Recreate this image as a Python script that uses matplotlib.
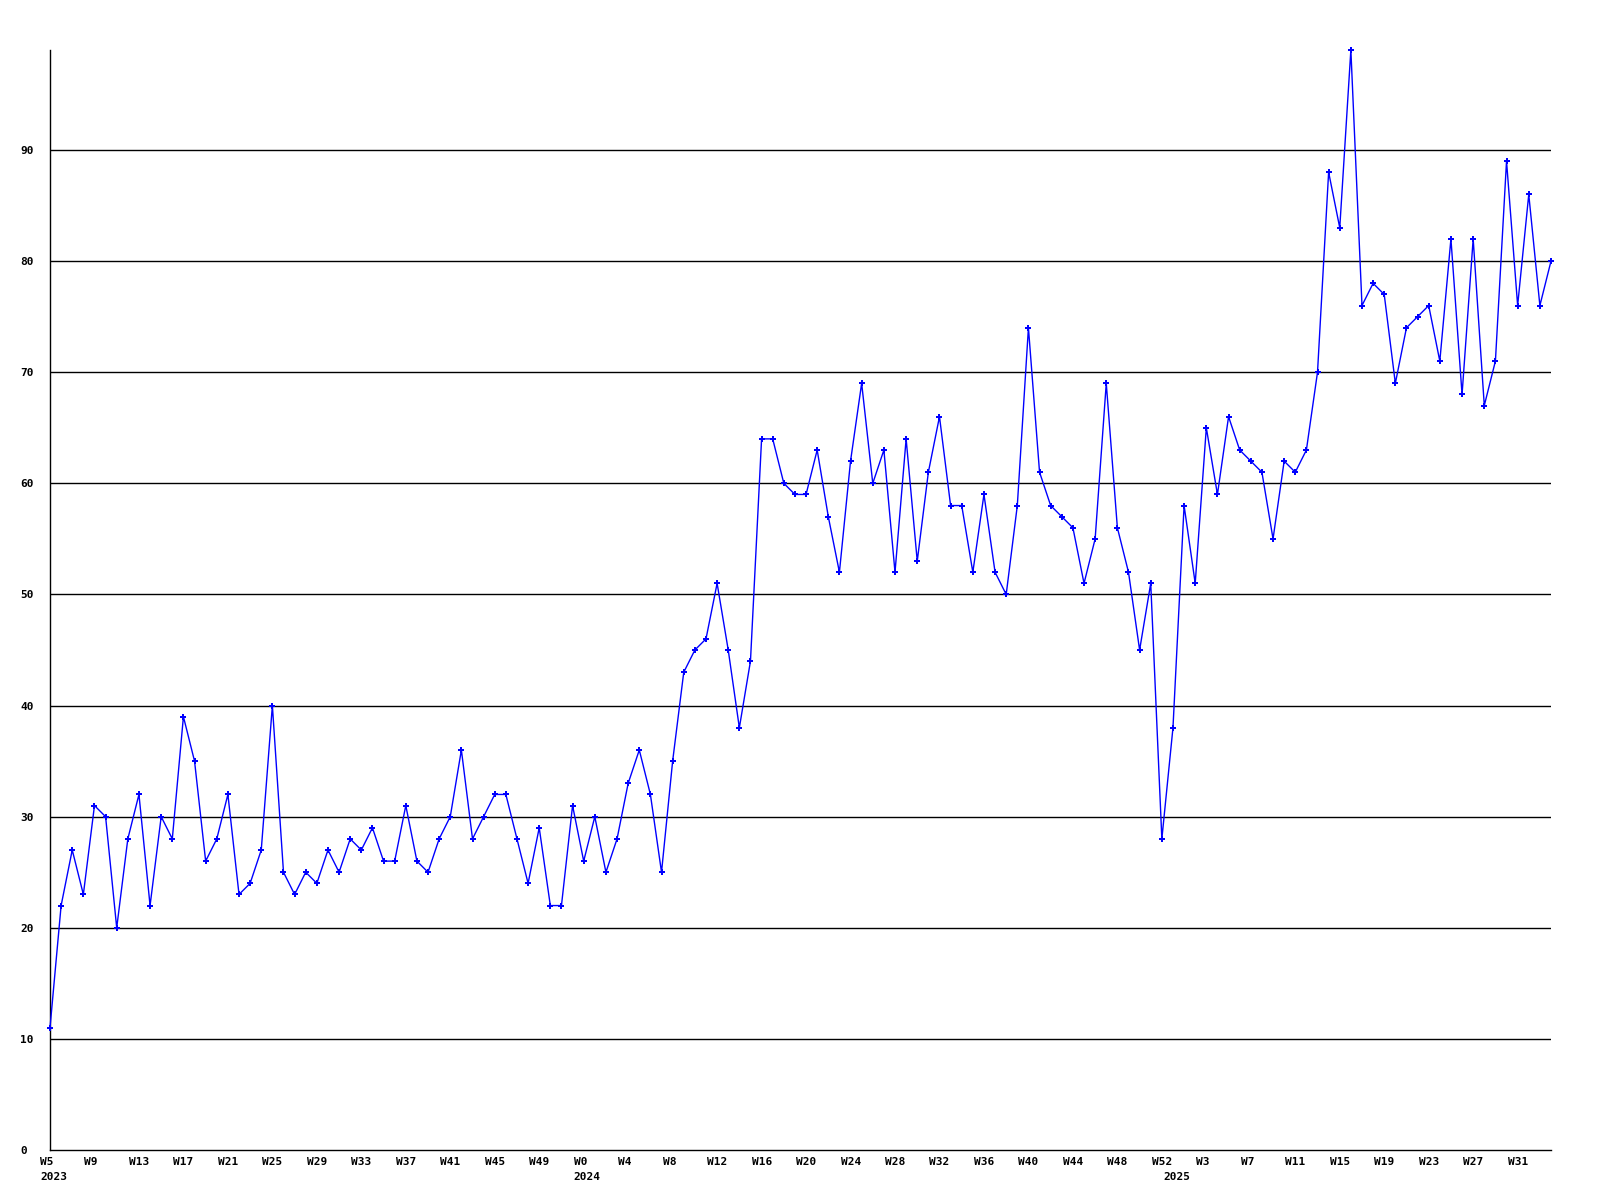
#!/usr/bin/env python3

import matplotlib
matplotlib.use("Agg")
import matplotlib.pyplot as plt
from matplotlib.transforms import ScaledTranslation

# weekly counts, W5 2023 .. W34 2025
values_2023 = [11, 22, 27, 23, 31, 30, 20, 28, 32, 22, 30, 28, 39, 35, 26, 28,
               32, 23, 24, 27, 40, 25, 23, 25, 24, 27, 25, 28, 27, 29, 26, 26,
               31, 26, 25, 28, 30, 36, 28, 30, 32, 32, 28, 24, 29, 22, 22, 31]
values_2024 = [26, 30, 25, 28, 33, 36, 32, 25, 35, 43, 45, 46, 51, 45, 38, 44,
               64, 64, 60, 59, 59, 63, 57, 52, 62, 69, 60, 63, 52, 64, 53, 61,
               66, 58, 58, 52, 59, 52, 50, 58, 74, 61, 58, 57, 56, 51, 55, 69,
               56, 52, 45, 51, 28]
values_2025 = [38, 58, 51, 65, 59, 66, 63, 62, 61, 55, 62, 61, 63, 70, 88, 83,
               99, 76, 78, 77, 69, 74, 75, 76, 71, 82, 68, 82, 67, 71, 89, 76,
               86, 76, 80]

first_week_2023 = 5
years = [2023, 2024, 2025]
y_ticks = [0, 10, 20, 30, 40, 50, 60, 70, 80, 90]

values = values_2023 + values_2024 + values_2025
week_numbers = ([first_week_2023 + i for i in range(len(values_2023))]
                + list(range(len(values_2024)))
                + list(range(len(values_2025))))
year_starts = [0, len(values_2023), len(values_2023) + len(values_2024)]
x = list(range(len(values)))

fig = plt.figure(figsize=(16, 12), dpi=100)
ax = fig.add_axes([50 / 1600, 50 / 1200, 1501 / 1600, 1100 / 1200])

font = dict(family="DejaVu Sans Mono", weight="bold", size=8)

for v in y_ticks[1:]:
    ax.axhline(v, color="black", linewidth=1.0, zorder=1)

ax.plot(x, values, color="#0000ff", linewidth=1.0, marker="P",
        markersize=4.5, markeredgewidth=0, zorder=3, clip_on=False)

ax.set_xlim(0, len(values) - 1)
ax.set_ylim(0, max(values))

for side in ("top", "right"):
    ax.spines[side].set_visible(False)
for side in ("left", "bottom"):
    ax.spines[side].set_color("black")
    ax.spines[side].set_linewidth(1.0)

# y labels, left aligned near the figure edge
ax.set_yticks(y_ticks)
ax.set_yticklabels([str(v) for v in y_ticks], fontdict=font)
ax.tick_params(axis="y", length=0, pad=21.6)
for lab in ax.get_yticklabels():
    lab.set_horizontalalignment("left")

# week labels every 4 weeks, years on a second row
ax.xaxis.remove_overlapping_locs = False
tick_pos = x[::4]
ax.set_xticks(tick_pos)
ax.set_xticklabels(["W%d" % week_numbers[i] for i in tick_pos], fontdict=font)
ax.set_xticks(year_starts, minor=True)
ax.set_xticklabels([str(y) for y in years], minor=True, fontdict=font)
ax.tick_params(axis="x", which="major", length=0, pad=5)
ax.tick_params(axis="x", which="minor", length=0, pad=16)

shift = ScaledTranslation(-10 / 100, 0, fig.dpi_scale_trans)
for lab in ax.get_xticklabels() + ax.get_xticklabels(minor=True):
    lab.set_horizontalalignment("left")
    lab.set_transform(lab.get_transform() + shift)

fig.savefig("out.png", dpi=100, facecolor="white")
